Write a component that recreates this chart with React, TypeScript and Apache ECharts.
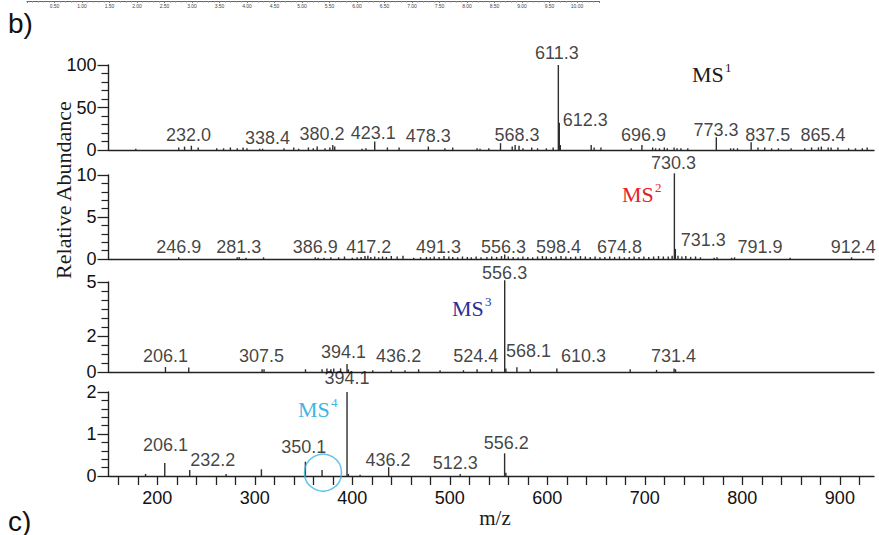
import React, { useEffect, useRef } from "react";
import * as echarts from "echarts";

// ---------- data ----------
const X_MIN = 150;
const X_MAX = 935;

// MS1 peaks [m/z, relative abundance %]
const ms1Peaks: [number, number][] = [
  [178, 1.5], [222, 3], [228, 4], [235, 5], [242, 3], [261, 2], [268, 2], [275, 3], [282, 2], [288, 3], [292, 2],
  [305, 1.5], [308, 1.5], [330, 2], [340, 3], [345, 1.5], [355, 3], [360, 2], [364, 4], [372, 2], [377, 3],
  [380, 6], [382, 4], [410, 1.5], [414, 2], [423, 10], [436, 3], [448, 3], [478, 4], [495, 2], [503, 3],
  [528, 2], [531, 1.5], [540, 2], [552, 8], [564, 4], [567, 6], [571, 5], [575, 2], [584, 3], [590, 2],
  [599, 2], [606, 3], [611.3, 100], [612.3, 32], [613.3, 6], [645, 6], [648, 3], [655, 3], [686, 2], [697, 6],
  [708, 3], [711, 2], [715, 2], [720, 3], [723, 2], [730, 3], [733, 2], [737, 2], [744, 2], [773.3, 15],
  [788, 2], [791, 2], [795, 2], [809, 9], [816, 3], [823, 3], [830, 2], [837, 2], [850, 2], [864, 2],
  [871, 3], [878, 3], [881, 4], [888, 3], [891, 3], [898, 3], [909, 2], [916, 2], [923, 2], [928, 3],
];
// labels [text, m/z position, abundance level]
const ms1Labels: [string, number, number][] = [
  ["232.0", 232, 17.6], ["338.4", 313, 14], ["380.2", 369, 18.8], ["423.1", 421.6, 20], ["478.3", 478, 16.5],
  ["568.3", 568.8, 17.6], ["611.3", 609.8, 114], ["612.3", 638.8, 35], ["696.9", 698.6, 17.6],
  ["773.3", 773, 23.5], ["837.5", 826, 17.6], ["865.4", 882.7, 17.6],
];

const ms2Peaks: [number, number][] = [
  [222, 0.2], [282, 0.2], [284, 0.25], [291, 0.15], [309, 0.2], [362, 0.2], [365, 0.15], [371, 0.15], [378, 0.2],
  [386, 0.2], [392, 0.3], [400, 0.15], [405, 0.2], [409, 0.25], [413, 0.35], [416, 0.4], [419, 0.25], [423, 0.3],
  [427, 0.2], [431, 0.3], [435, 0.25], [440, 0.35], [446, 0.3], [452, 0.4], [463, 0.15], [470, 0.2], [476, 0.25],
  [480, 0.2], [484, 0.3], [489, 0.25], [494, 0.35], [499, 0.3], [503, 0.25], [508, 0.2], [513, 0.3], [518, 0.25],
  [522, 0.2], [527, 0.3], [532, 0.2], [538, 0.25], [543, 0.3], [548, 0.25], [553, 0.35], [556.3, 0.55], [560, 0.3],
  [565, 0.25], [570, 0.2], [575, 0.3], [580, 0.25], [585, 0.2], [590, 0.3], [595, 0.35], [599, 0.3], [604, 0.25],
  [609, 0.3], [614, 0.35], [619, 0.3], [624, 0.25], [629, 0.3], [634, 0.35], [639, 0.3], [644, 0.25], [649, 0.3],
  [654, 0.2], [659, 0.25], [664, 0.3], [669, 0.25], [674, 0.3], [679, 0.2], [684, 0.25], [689, 0.3], [694, 0.25],
  [699, 0.3], [704, 0.25], [709, 0.3], [714, 0.35], [719, 0.3], [724, 0.3], [728, 0.4], [730.3, 10.2], [731.3, 1.2],
  [734, 0.4], [738, 0.3], [742, 0.35], [747, 0.25], [752, 0.3], [757, 0.2], [771, 0.15], [774, 0.2], [789, 0.15],
  [792, 0.2], [849, 0.15], [912, 0.2],
];
const ms2Labels: [string, number, number][] = [
  ["246.9", 222, 1.43], ["281.3", 283.5, 1.43], ["386.9", 362, 1.43], ["417.2", 416.8, 1.43], ["491.3", 488.5, 1.43],
  ["556.3", 555.1, 1.43], ["598.4", 611.5, 1.43], ["674.8", 674, 1.43], ["730.3", 729.3, 11.4],
  ["731.3", 760, 2.26], ["791.9", 818, 1.43], ["912.4", 913.8, 1.43],
];

const ms3Peaks: [number, number][] = [
  [208.4, 0.28], [232.3, 0.25], [307.5, 0.15], [309.5, 0.15], [352, 0.15], [369, 0.15], [374, 0.2], [378, 0.15],
  [381, 0.2], [388, 0.2], [394.6, 0.45], [396, 0.15], [421, 0.1], [440, 0.1], [454, 0.1], [468, 0.15], [490, 0.1],
  [514, 0.1], [528, 0.15], [543, 0.15], [556.3, 5.1], [557.5, 0.2], [568.8, 0.27], [582.5, 0.15], [609.8, 0.2],
  [685, 0.15], [712, 0.12], [730, 0.2], [731.5, 0.15],
];
const ms3Labels: [string, number, number][] = [
  ["206.1", 208.4, 0.9], ["307.5", 306.8, 0.9], ["394.1", 391, 1.09], ["436.2", 447.5, 0.9], ["524.4", 526.6, 0.9],
  ["556.3", 556.2, 5.48], ["568.1", 580.7, 1.17], ["610.3", 637, 0.9], ["731.4", 729.3, 0.9],
];

const ms4Peaks: [number, number][] = [
  [188, 0.05], [207.7, 0.31], [233.3, 0.14], [270.6, 0.05], [306.8, 0.16], [351.9, 0.34], [369, 0.14],
  [394.6, 2.0], [396, 0.05], [408, 0.03], [437.3, 0.21], [510.7, 0.05], [556.2, 0.54], [557.5, 0.08],
];
const ms4Labels: [string, number, number][] = [
  ["394.1", 394.6, 2.33], ["206.1", 208.4, 0.74], ["232.2", 256.9, 0.38], ["350.1", 350.2, 0.68],
  ["436.2", 436.6, 0.38], ["512.3", 505.6, 0.31], ["556.2", 557.9, 0.78],
];
const ms4Circle: [number, number][] = [[370, 0.08]];

// axis ticks
const yMax = [100, 10, 5, 2];
const yMajor = [[0, 50, 100], [0, 5, 10], [0, 2, 5], [0, 1, 2]];
const yMinor = [
  [10, 20, 30, 40, 60, 70, 80, 90],
  [1, 2, 3, 4, 6, 7, 8, 9],
  [0.5, 1, 1.5, 2.5, 3, 3.5, 4, 4.5],
  [0.2, 0.4, 0.6, 0.8, 1.2, 1.4, 1.6, 1.8],
];
const xTickValues = [
  160, 180, 200, 220, 240, 260, 280, 300, 320, 340, 360, 380, 400, 420, 440, 460, 480, 500, 520, 540, 560,
  580, 600, 620, 640, 660, 680, 700, 720, 740, 760, 780, 800, 820, 840, 860, 880, 900, 920,
];
const xLabelValues = [200, 300, 400, 500, 600, 700, 800, 900];
const topStripLabels = [0.5, 1, 1.5, 2, 2.5, 3, 3.5, 4, 4.5, 5, 5.5, 6, 6.5, 7, 7.5, 8, 8.5, 9, 9.5, 10];

const panels = [
  { peaks: ms1Peaks, labels: ms1Labels },
  { peaks: ms2Peaks, labels: ms2Labels },
  { peaks: ms3Peaks, labels: ms3Labels },
  { peaks: ms4Peaks, labels: ms4Labels },
];

// ---------- layout ----------
const GRID_LEFT = 108.5;
const GRID_WIDTH = 765.5;
const gridTops = [65, 175, 282, 392];
const gridHeights = [85, 84, 90, 84];

const SANS = "'Liberation Sans', Arial, sans-serif";
const SERIF = "'Liberation Serif', 'Times New Roman', serif";
const AX = "#222";

function buildOption() {
  const grid: any[] = gridTops.map((t, i) => ({ left: GRID_LEFT, width: GRID_WIDTH, top: t, height: gridHeights[i] }));
  grid.push({ left: 27, width: 572, top: -2, height: 3 });

  const xAxis: any[] = gridTops.map((_, i) => ({
    type: "value",
    gridIndex: i,
    min: X_MIN,
    max: X_MAX,
    axisLine: { show: true, onZero: false, lineStyle: { color: AX, width: 1.4 } },
    axisTick:
      i === 3
        ? { show: true, customValues: xTickValues, length: 9, lineStyle: { color: AX, width: 1.3 } }
        : { show: false },
    axisLabel:
      i === 3
        ? { show: true, customValues: xLabelValues, fontSize: 18, fontFamily: SANS, color: "#111", margin: 13 }
        : { show: false },
    splitLine: { show: false },
  }));
  xAxis.push({
    type: "value",
    gridIndex: 4,
    min: 0,
    max: 10.4,
    interval: 0.5,
    axisLine: { show: true, lineStyle: { color: "#666", width: 1 } },
    axisTick: { show: true, length: 2, lineStyle: { color: "#777" } },
    minorTick: { show: true, splitNumber: 5, length: 1.5, lineStyle: { color: "#888" } },
    axisLabel: {
      show: true,
      customValues: topStripLabels,
      fontSize: 5,
      color: "#444",
      margin: 2,
      fontFamily: SANS,
      formatter: (v: number) => (v === 0 || v > 10 ? "" : v.toFixed(2)),
    },
    splitLine: { show: false },
  });

  const yAxis: any[] = [];
  gridTops.forEach((_, i) => {
    yAxis.push({
      type: "value",
      gridIndex: i,
      position: "left",
      min: 0,
      max: yMax[i],
      axisLine: { show: true, lineStyle: { color: AX, width: 1.4 } },
      axisTick: { show: true, inside: false, length: 11, customValues: yMajor[i], lineStyle: { color: AX, width: 1.3 } },
      axisLabel: { show: true, customValues: yMajor[i], fontSize: 18, fontFamily: SANS, color: "#111", margin: 12 },
      splitLine: { show: false },
    });
    yAxis.push({
      type: "value",
      gridIndex: i,
      position: "left",
      min: 0,
      max: yMax[i],
      axisLine: { show: false },
      axisTick: { show: true, inside: false, length: 7, customValues: yMinor[i], lineStyle: { color: AX, width: 1.2 } },
      axisLabel: { show: false },
      splitLine: { show: false },
    });
  });
  yAxis.push({ type: "value", gridIndex: 4, show: false, min: 0, max: 1 });

  const series: any[] = [];
  panels.forEach((p, i) => {
    series.push({
      type: "custom",
      xAxisIndex: i,
      yAxisIndex: i * 2,
      data: p.peaks,
      encode: { x: 0, y: 1 },
      silent: true,
      renderItem: (_params: any, api: any) => {
        const x = api.value(0);
        const y = api.value(1);
        const p0 = api.coord([x, 0]);
        const p1 = api.coord([x, y]);
        return {
          type: "line",
          shape: { x1: p0[0], y1: p0[1], x2: p1[0], y2: p1[1] },
          style: { stroke: "#2e2e2e", lineWidth: 1.4 },
        };
      },
    });
    series.push({
      type: "scatter",
      xAxisIndex: i,
      yAxisIndex: i * 2,
      data: p.labels.map((l) => [l[1], l[2], l[0]]),
      symbolSize: 1,
      itemStyle: { color: "transparent" },
      clip: false,
      silent: true,
      label: {
        show: true,
        position: "inside",
        formatter: (prm: any) => prm.value[2],
        fontSize: 18,
        fontFamily: SANS,
        color: "#111",
      },
    });
  });
  series.push({
    type: "scatter",
    xAxisIndex: 3,
    yAxisIndex: 6,
    data: ms4Circle,
    symbol: "circle",
    symbolSize: 37,
    clip: false,
    silent: true,
    itemStyle: { color: "transparent", borderColor: "#3db6e6", borderWidth: 1.6 },
  });

  const msText = (left: number, midY: number, sup: string, color: string) => [
    {
      type: "text",
      x: left,
      y: midY,
      style: { text: "MS", fontSize: 22, fontFamily: SERIF, fill: color, align: "left", verticalAlign: "middle" },
    },
    {
      type: "text",
      x: left + 33,
      y: midY - 7,
      style: { text: sup, fontSize: 13, fontFamily: SERIF, fill: color, align: "left", verticalAlign: "middle" },
    },
  ];

  const graphic: any[] = [
    { type: "text", x: 8, y: 9, style: { text: "b)", fontSize: 28, fontFamily: SANS, fill: "#111", verticalAlign: "top" } },
    { type: "text", x: 8, y: 507, style: { text: "c)", fontSize: 28, fontFamily: SANS, fill: "#111", verticalAlign: "top" } },
    {
      type: "text",
      x: 63,
      y: 190,
      rotation: Math.PI / 2,
      style: { text: "Relative Abundance", fontSize: 22, fontFamily: SERIF, fill: "#1a1a1a", align: "center", verticalAlign: "middle" },
    },
    {
      type: "text",
      x: 495,
      y: 518,
      style: { text: "m/z", fontSize: 21, fontFamily: SERIF, fill: "#1a1a1a", align: "center", verticalAlign: "middle" },
    },
    ...msText(692, 74, "1", "#1a1a1a"),
    ...msText(622, 194, "2", "#e8202a"),
    ...msText(452, 308, "3", "#2b2f9c"),
    ...msText(298, 409, "4", "#3db6e6"),
  ];

  return {
    animation: false,
    backgroundColor: "#ffffff",
    grid,
    xAxis,
    yAxis,
    series,
    graphic,
  };
}

export default function App() {
  const ref = useRef<HTMLDivElement>(null);
  useEffect(() => {
    if (!ref.current) return;
    const chart = echarts.init(ref.current, undefined, { renderer: "svg" });
    chart.setOption(buildOption() as any);
    return () => chart.dispose();
  }, []);
  return (
    <div
      ref={ref}
      style={{ position: "absolute", left: 0, top: 0, width: 879, height: 535, background: "#fff" }}
    />
  );
}
